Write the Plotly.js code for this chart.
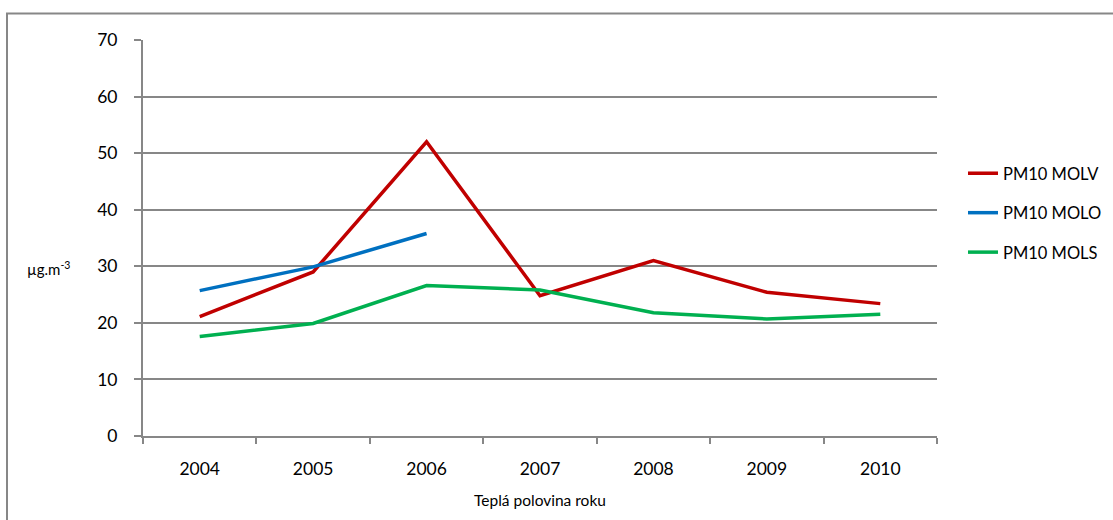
<!DOCTYPE html>
<html>
<head>
<meta charset="utf-8">
<script src="https://cdn.plot.ly/plotly-3.0.1.min.js"></script>
<style>
  html, body { margin: 0; padding: 0; background: #fff; }
  #chart { width: 1113px; height: 520px; }
</style>
</head>
<body>
<div id="chart"></div>
<script>
const years = ["2004", "2005", "2006", "2007", "2008", "2009", "2010"];
const molv = [21.1, 29.0, 52.0, 24.8, 31.0, 25.4, 23.4];
const molo = [25.7, 29.9, 35.8, null, null, null, null];
const mols = [17.6, 19.9, 26.6, 25.8, 21.8, 20.7, 21.5];
const seriesNames = ["PM10 MOLV", "PM10 MOLO", "PM10 MOLS"];
const seriesColors = ["#C00000", "#0070C0", "#00B050"];
const seriesValues = [molv, molo, mols];

const FONT = "Lato, 'Open Sans', sans-serif";

const traces = seriesValues.map((vals, i) => ({
  type: "scatter",
  mode: "lines",
  x: years,
  y: vals,
  name: seriesNames[i],
  legendgroup: "g" + i,
  line: { color: seriesColors[i], width: 3.5 },
  connectgaps: false,
  hoverinfo: "x+y+name"
}));

const layout = {
  width: 1113,
  height: 520,
  margin: { l: 143, r: 176, t: 40, b: 84, autoexpand: false },
  paper_bgcolor: "#ffffff",
  plot_bgcolor: "#ffffff",
  font: { family: FONT, size: 16, color: "#000" },
  showlegend: true,
  legend: {
    x: 963 / 1113, xanchor: "left", xref: "container",
    y: 1 - 156 / 520, yanchor: "top", yref: "container",
    font: { family: FONT, size: 16.5, color: "#000" },
    traceorder: "grouped",
    tracegroupgap: 15,
    bgcolor: "rgba(0,0,0,0)",
    itemwidth: 30
  },
  xaxis: {
    type: "category",
    range: [-0.5, 6.5],
    showgrid: false,
    showline: true,
    linecolor: "#878787",
    linewidth: 2,
    ticks: "outside",
    tickson: "boundaries",
    ticklen: 6,
    tickwidth: 2,
    tickcolor: "#878787",
    ticklabelstandoff: 16,
    tickfont: { family: FONT, size: 17.5, color: "#000" },
    title: { text: "Teplá polovina roku", font: { family: FONT, size: 15.5, color: "#000" }, standoff: 17 },
    fixedrange: true,
    zeroline: false,
    automargin: false
  },
  yaxis: {
    range: [0, 70],
    dtick: 10,
    showgrid: true,
    gridcolor: "#878787",
    gridwidth: 2,
    showline: true,
    linecolor: "#878787",
    linewidth: 2,
    ticks: "outside",
    ticklen: 7,
    tickwidth: 2,
    tickcolor: "#878787",
    ticklabelstandoff: 13,
    tickfont: { family: FONT, size: 17.5, color: "#000" },
    zeroline: false,
    fixedrange: true,
    automargin: false
  },
  annotations: [{
    xref: "paper", yref: "paper",
    x: (48 - 143) / 794, y: (436 - 268) / 396,
    xanchor: "center", yanchor: "middle",
    text: "µg.m<sup>-3</sup>",
    showarrow: false,
    font: { family: FONT, size: 15, color: "#000" }
  }],
  shapes: [{
    type: "rect",
    xref: "paper", yref: "paper",
    x0: (7 - 143) / 794, x1: (1125 - 143) / 794,
    y0: (436 - 530) / 396, y1: (436 - 13.5) / 396,
    line: { color: "#878787", width: 2 },
    fillcolor: "rgba(0,0,0,0)",
    layer: "below"
  }]
};

Plotly.newPlot("chart", traces, layout, { displayModeBar: false, staticPlot: true });
</script>
</body>
</html>
